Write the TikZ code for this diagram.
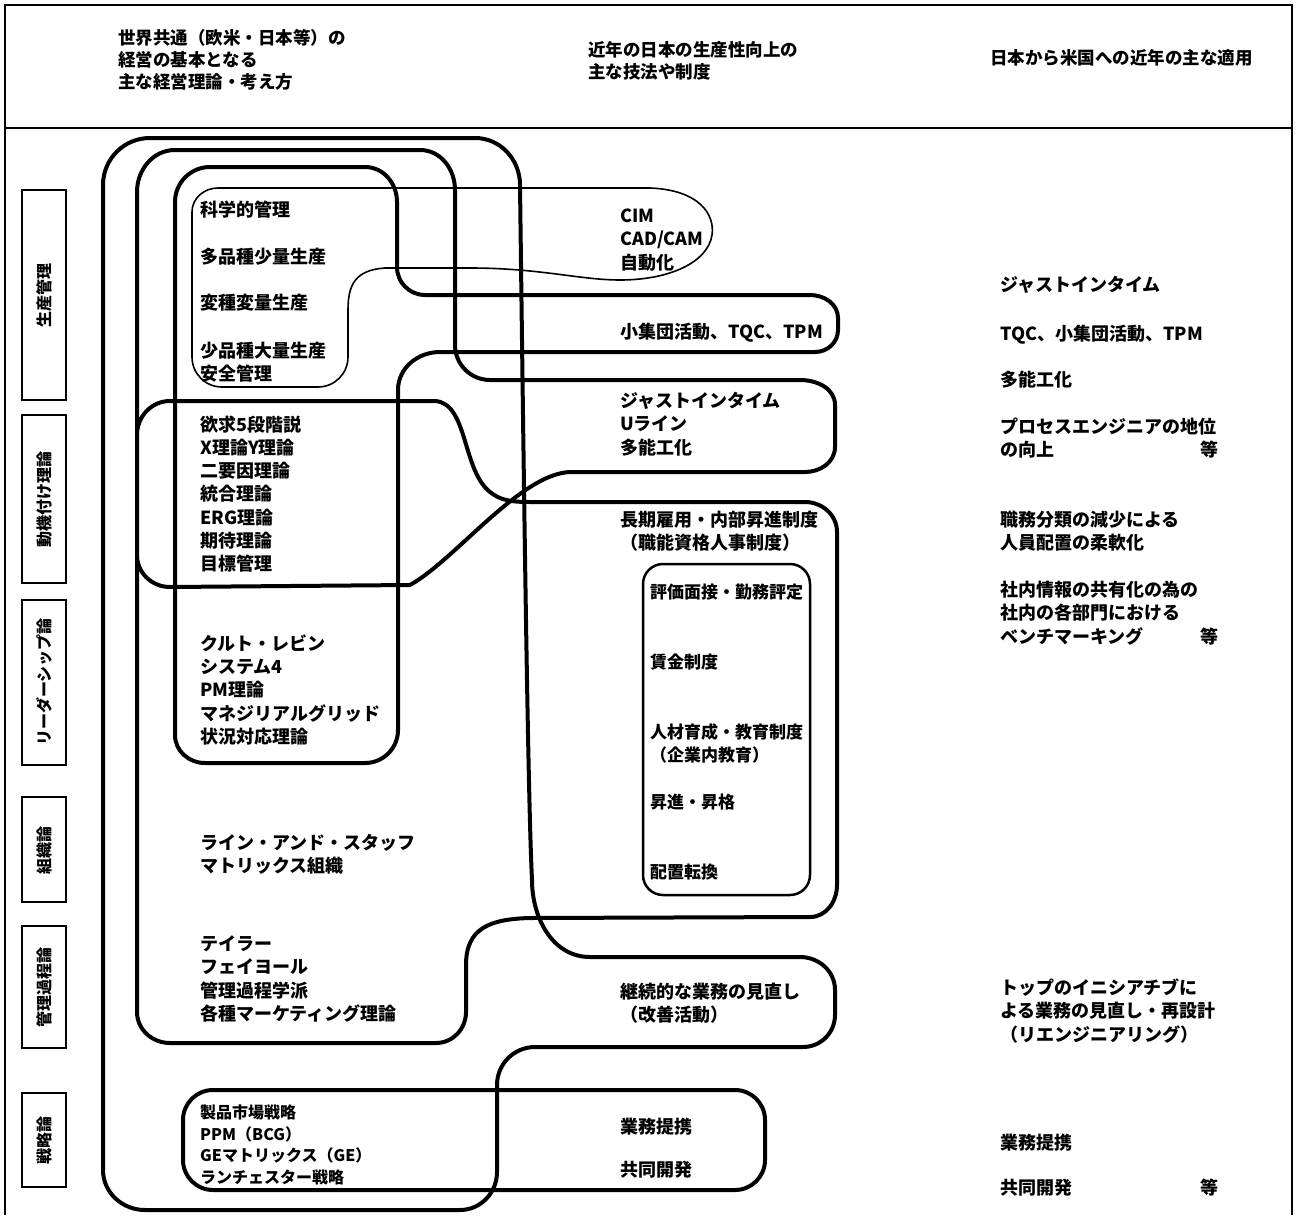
\documentclass[tikz,border=0pt]{standalone}
\usepackage{fontspec}
\setmainfont{Noto Sans CJK JP}
\begin{document}
\begin{tikzpicture}[x=1pt,y=-1pt,
  lp/.style={line width=4pt, line join=round, line cap=round},
  thinlp/.style={line width=1.6pt, line join=round},
  lbox/.style={draw, line width=2.5pt},
  txt/.style={anchor=west, inner sep=0pt, align=left, font=\fontsize{18}{23.3}\selectfont\bfseries},
  stxt/.style={anchor=west, inner sep=0pt, align=left, font=\fontsize{17}{23}\selectfont\bfseries},
  lab/.style={rotate=90, inner sep=0pt, font=\fontsize{16}{16}\selectfont\bfseries}]
\useasboundingbox (0,0) rectangle (1297,1215);
% frame
\draw[line width=2pt] (5,1215) -- (5,5) -- (1292,5) -- (1292,1215);
\draw[line width=2pt] (5,128) -- (1292,128);
% header
\node[txt, font=\fontsize{17.5}{22}\selectfont\bfseries] (h1) at (118,60) {世界共通（欧米・日本等）の\\経営の基本となる\\主な経営理論・考え方};
\node[txt, font=\fontsize{17.5}{22}\selectfont\bfseries] (h2) at (588,61) {近年の日本の生産性向上の\\主な技法や制度};
\node[txt, font=\fontsize{17.5}{22}\selectfont\bfseries] (h3) at (990,58) {日本から米国への近年の主な適用};
% left label boxes
\draw[lbox] (22,190) rectangle (66,400);
\draw[lbox] (22,415) rectangle (66,583);
\draw[lbox] (22,600) rectangle (66,765);
\draw[lbox] (22,797) rectangle (66,902);
\draw[lbox] (22,926) rectangle (66,1048);
\draw[lbox] (22,1093) rectangle (66,1187);
\node[lab] (b1) at (44,295) {生産管理};
\node[lab] (b2) at (44,499) {動機付け理論};
\node[lab] (b3) at (44,682) {リーダーシップ論};
\node[lab] (b4) at (44,850) {組織論};
\node[lab] (b5) at (44,987) {管理過程論};
\node[lab] (b6) at (44,1140) {戦略論};
% loop L1 (outermost)
\draw[lp] (103,600) -- (103,185) to[out=90,in=180] (150,138) -- (475,138) to[out=0,in=90] (520,185)
  .. controls (524,500) and (528,800) .. (532,880) to[out=-90,in=180] (590,957) -- (800,957)
  to[out=0,in=90] (835,990) -- (835,1015) to[out=-90,in=0] (803,1047) -- (535,1047)
  to[out=180,in=90] (497,1085) -- (497,1172) to[out=-90,in=0] (460,1210) -- (145,1210)
  to[out=180,in=-90] (103,1170) -- cycle;
% loop L2 (figure eight)
\draw[lp] (137,600) -- (137,192) to[out=90,in=180] (175,150) -- (420,150) to[out=0,in=90] (455,190)
  -- (455,345) to[out=-90,in=180] (490,380) -- (800,380) to[out=0,in=90] (835,405) -- (835,447)
  to[out=-90,in=0] (805,472) -- (570,472) .. controls (520,474) and (455,560) .. (410,585)
  -- (170,587) to[out=180,in=-90] (137,555) -- (137,435) to[out=90,in=180] (170,401) -- (435,401)
  .. controls (468,403) and (462,470) .. (490,492) .. controls (500,500) and (510,502) .. (530,502)
  -- (805,502) to[out=0,in=90] (837,532) -- (837,885) to[out=-90,in=0] (810,917) -- (530,918)
  .. controls (490,919) and (466,928) .. (466,965) -- (466,1012) to[out=-90,in=0] (436,1043)
  -- (170,1043) to[out=180,in=-90] (137,1012) -- cycle;
% loop L3
\draw[lp] (175,600) -- (175,202) to[out=90,in=180] (210,167) -- (365,167) to[out=0,in=90] (397,202)
  -- (397,267) to[out=-90,in=180] (425,295) -- (810,295) to[out=0,in=90] (838,318) -- (838,330)
  to[out=-90,in=0] (815,352) -- (440,352) to[out=180,in=90] (398,390) -- (398,730)
  to[out=-90,in=0] (365,763) -- (205,763) to[out=180,in=-90] (175,735) -- cycle;
% thin loop (CIM)
\draw[thinlp] (192,300) -- (192,212) to[out=90,in=180] (218,188) -- (650,188)
  .. controls (700,190) and (715,215) .. (712,235) .. controls (708,262) and (670,280) .. (620,280)
  .. controls (580,280) and (540,268) .. (470,268) -- (385,268) .. controls (355,270) and (348,285) .. (348,310)
  -- (348,357) to[out=-90,in=0] (318,387) -- (222,387) to[out=180,in=-90] (192,357) -- cycle;
% inner box
\draw[line width=2.5pt, rounded corners=20pt] (643,564) rectangle (810,895);
% strategy loop
\draw[lp, rounded corners=30pt] (183,1090) rectangle (765,1190);
% left column texts
\node[txt] (l1) at (200,210) {科学的管理};
\node[txt] (l2) at (200,257) {多品種少量生産};
\node[txt] (l3) at (200,303) {変種変量生産};
\node[txt] (l4) at (200,362) {少品種大量生産\\安全管理};
\node[txt] (l5) at (200,494) {欲求5段階説\\X理論Y理論\\二要因理論\\統合理論\\ERG理論\\期待理論\\目標管理};
\node[txt] (l6) at (200,690) {クルト・レビン\\システム4\\PM理論\\マネジリアルグリッド\\状況対応理論};
\node[txt] (l7) at (200,854) {ライン・アンド・スタッフ\\マトリックス組織};
\node[txt] (l8) at (200,979) {テイラー\\フェイヨール\\管理過程学派\\各種マーケティング理論};
\node[txt, font=\fontsize{16}{21.7}\selectfont\bfseries] (l9) at (200,1145) {製品市場戦略\\PPM（BCG）\\GEマトリックス（GE）\\ランチェスター戦略};
% middle column texts
\node[txt] (m1) at (620,240) {CIM\\CAD/CAM\\自動化};
\node[txt] (m2) at (620,333) {小集団活動、TQC、TPM};
\node[txt] (m3) at (620,424) {ジャストインタイム\\Uライン\\多能工化};
\node[txt] (m4) at (620,531) {長期雇用・内部昇進制度\\（職能資格人事制度）};
\node[stxt] (m5) at (650,592) {評価面接・勤務評定};
\node[stxt] (m6) at (650,662) {賃金制度};
\node[stxt] (m7) at (650,743) {人材育成・教育制度\\（企業内教育）};
\node[stxt] (m8) at (650,802) {昇進・昇格};
\node[stxt] (m9) at (650,872) {配置転換};
\node[txt] (m10) at (620,1003) {継続的な業務の見直し\\（改善活動）};
\node[txt] (m11) at (620,1127) {業務提携};
\node[txt] (m12) at (620,1170) {共同開発};
% right column texts
\node[txt] (r1) at (1000,285) {ジャストインタイム};
\node[txt] (r2) at (1000,335) {TQC、小集団活動、TPM};
\node[txt] (r3) at (1000,380) {多能工化};
\node[txt] (r4) at (1000,438) {プロセスエンジニアの地位\\の向上};
\node[txt] (r4e) at (1200,450) {等};
\node[txt] (r5) at (1000,531) {職務分類の減少による\\人員配置の柔軟化};
\node[txt] (r6) at (1000,613) {社内情報の共有化の為の\\社内の各部門における\\ベンチマーキング};
\node[txt] (r6e) at (1200,637) {等};
\node[txt] (r7) at (1000,1011) {トップのイニシアチブに\\よる業務の見直し・再設計\\（リエンジニアリング）};
\node[txt] (r8) at (1000,1143) {業務提携};
\node[txt] (r9) at (1000,1188) {共同開発};
\node[txt] (r9e) at (1200,1188) {等};
\end{tikzpicture}
\end{document}
